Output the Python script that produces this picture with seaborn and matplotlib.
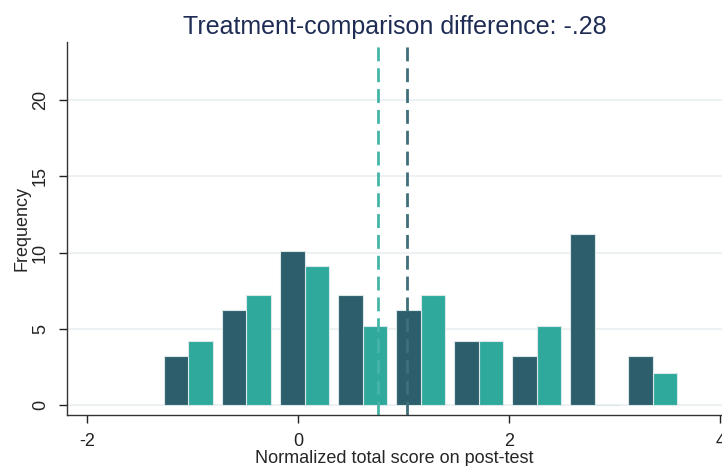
import numpy as np
import pandas as pd
import matplotlib
matplotlib.use("Agg")
import matplotlib.pyplot as plt
import seaborn as sns

# bin centres (normalized score) and bar heights
bin_centers = [-1.04, -0.49, 0.06, 0.61, 1.16, 1.71, 2.26, 2.81, 3.36]
comparison = [3.2, 6.2, 10.1, 7.2, 6.2, 4.2, 3.2, 11.2, 3.2]
treatment = [4.2, 7.2, 9.1, 5.2, 7.2, 4.2, 5.2, 0.0, 2.1]
comparison_mean = 1.03
treatment_mean = 0.755
title = "Treatment-comparison difference: -.28"

DARK = "#2c5f6b"
TEAL = "#2ea99c"

df = pd.DataFrame({
    "score": bin_centers * 2,
    "freq": comparison + treatment,
    "group": ["Comparison"] * len(bin_centers) + ["Treatment"] * len(bin_centers),
})

half = (bin_centers[1] - bin_centers[0]) / 2
edges = [c - half for c in bin_centers] + [bin_centers[-1] + half]

sns.set_style("white")
plt.rcParams["font.family"] = ["Liberation Sans", "DejaVu Sans"]

fig = plt.figure(figsize=(7.22, 4.66), dpi=100)
ax = fig.add_axes([0.0928, 0.1094, 0.9072, 0.8006])

sns.histplot(data=df, x="score", weights="freq", hue="group",
             hue_order=["Comparison", "Treatment"], palette=[DARK, TEAL],
             bins=edges, multiple="dodge", shrink=0.845, alpha=1,
             edgecolor="#dbe7e9", linewidth=0.8, legend=False, ax=ax)

ax.axvline(treatment_mean, color="#45b5a8", ls=(0, (5, 2.5)), lw=2)
ax.axvline(comparison_mean, color="#3f6f7a", ls=(0, (5, 2.5)), lw=2)

ax.set_xlim(-2.19, 4.015)
ax.set_ylim(-0.65, 23.8)
ax.set_xticks([-2, 0, 2, 4])
ax.set_xticklabels(["-2", "0", "2", "4"])
ax.set_yticks([0, 5, 10, 15, 20])
ax.yaxis.grid(True, color="#e9f0f2", lw=1.2)
ax.set_axisbelow(True)

for lab in ax.get_yticklabels():
    lab.set_rotation(90)
    lab.set_va("center")
ax.tick_params(axis="both", labelsize=13, colors="#222222", length=6,
               width=1, direction="out", left=True, bottom=True, pad=7)
for s in ["top", "right"]:
    ax.spines[s].set_visible(False)
for s in ["left", "bottom"]:
    ax.spines[s].set_color("#333333")
    ax.spines[s].set_linewidth(1)

ax.set_xlabel("Normalized total score on post-test", fontsize=13, labelpad=0)
ax.set_ylabel("Frequency", fontsize=13, labelpad=1)
ax.set_title(title, fontsize=18, color="#1f2d55", pad=6)

fig.savefig("out.png", dpi=100)
